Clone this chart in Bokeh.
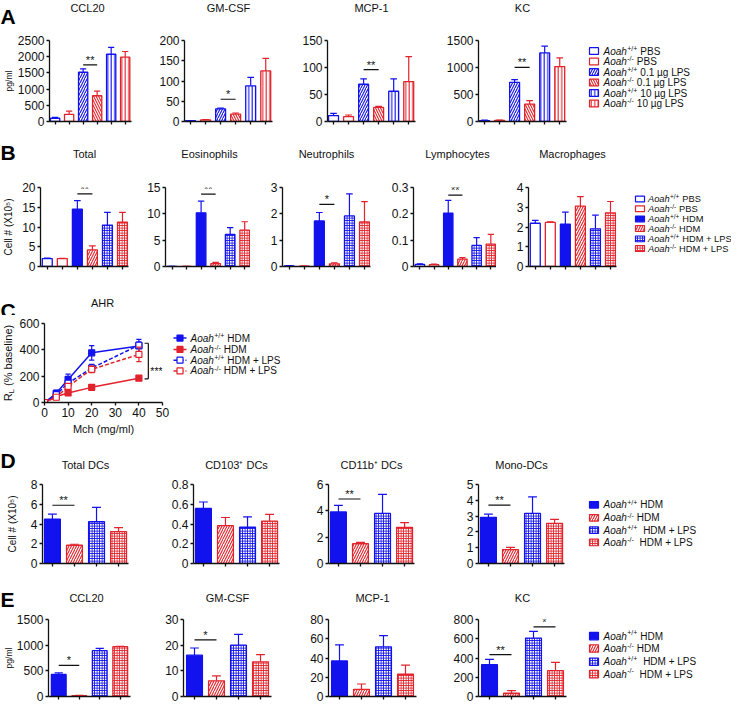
import math
from bokeh.plotting import figure
from bokeh.models import Range1d, FixedTicker, Label, LabelSet, ColumnDataSource, Div
from bokeh.layouts import row, column
from bokeh.embed import file_html
from bokeh.resources import INLINE
from bokeh.core.properties import value

FONT = "Liberation Sans"
BLUE = "#1212EE"
RED = "#E2232B"
INK = "#111111"

# ------------------------------------------------------------------ data
# Panel A (pg/ml); groups: +/+ PBS, -/- PBS, +/+ 0.1ug LPS, -/- 0.1ug LPS, +/+ 10ug LPS, -/- 10ug LPS
a_titles = ["CCL20", "GM-CSF", "MCP-1", "KC"]
a_groups = ["wt_pbs", "ko_pbs", "wt_l01", "ko_l01", "wt_l10", "ko_l10"]
a_ccl20 = [100, 220, 1520, 795, 2075, 1985]
a_ccl20_err = [25, 100, 105, 145, 215, 175]
a_gmcsf = [2, 4, 31, 18, 88, 125]
a_gmcsf_err = [0.5, 1, 2, 3, 21, 31]
a_mcp1 = [11, 9, 69, 26, 56, 74]
a_mcp1_err = [4, 3, 10, 2, 23, 46]
a_kc = [18, 20, 725, 322, 1270, 1017]
a_kc_err = [6, 6, 50, 63, 124, 160]
a_ymax = [2500, 200, 150, 1500]
a_ticks = [[0, 500, 1000, 1500, 2000, 2500], [0, 50, 100, 150, 200], [0, 50, 100, 150], [0, 500, 1000, 1500]]
a_sig = [[(2, 3, 1745, "**")], [(2, 3, 55, "*")], [(2, 3, 96, "**")], [(2, 3, 1004, "**")]]

# Panel B (cell # x10^5); groups: +/+ PBS, -/- PBS, +/+ HDM, -/- HDM, +/+ HDM+LPS, -/- HDM+LPS
b_titles = ["Total", "Eosinophils", "Neutrophils", "Lymphocytes", "Macrophages"]
b_groups = ["wt_pbs", "ko_pbs", "wt_hdm", "ko_hdm", "wt_hl", "ko_hl"]
b_total = [2.0, 2.0, 14.5, 4.2, 10.5, 11.2]
b_total_err = [0.1, 0.05, 2.2, 1.0, 3.2, 2.5]
b_eos = [0.02, 0.02, 10.2, 0.55, 6.1, 6.9]
b_eos_err = [0.01, 0.01, 2.2, 0.25, 1.3, 1.6]
b_neu = [0.02, 0.01, 1.73, 0.1, 1.92, 1.69]
b_neu_err = [0.01, 0.005, 0.32, 0.04, 0.84, 0.77]
b_lym = [0.008, 0.007, 0.203, 0.028, 0.08, 0.085]
b_lym_err = [0.002, 0.002, 0.048, 0.006, 0.03, 0.037]
b_mac = [2.19, 2.23, 2.15, 3.06, 1.91, 2.72]
b_mac_err = [0.15, 0.03, 0.6, 0.48, 0.69, 0.57]
b_ymax = [20, 15, 3, 0.3, 4]
b_ticks = [[0, 5, 10, 15, 20], [0, 5, 10, 15], [0, 1, 2, 3], [0.0, 0.1, 0.2, 0.3], [0, 1, 2, 3, 4]]
b_sig = [[(2, 3, 18.4, "**")], [(2, 3, 13.75, "**")], [(2, 3, 2.36, "*")], [(2, 3, 0.271, "**")], []]

# Panel C (AHR, R_L % baseline)
mch = [0, 5, 10, 20, 40]
ahr_wt_hdm = [0, 70, 175, 377, 430]
ahr_wt_hdm_err = [0, 25, 40, 55, 50]
ahr_ko_hdm = [0, 45, 72, 115, 185]
ahr_ko_hdm_err = [0, 10, 12, 15, 18]
ahr_wt_lps = [0, 60, 147, 262, 435]
ahr_wt_lps_err = [0, 15, 25, 28, 25]
ahr_ko_lps = [0, 40, 122, 252, 365]
ahr_ko_lps_err = [0, 10, 20, 25, 55]
ahr_bracket = (44, 180, 450, "***")

# Panel D (cell # x10^5); groups: +/+ HDM, -/- HDM, +/+ HDM+LPS, -/- HDM+LPS
d_titles = ["Total DCs", "CD103\u207a DCs", "CD11b\u207a DCs", "Mono-DCs"]
d_groups = ["wt_hdm", "ko_hdm", "wt_hl", "ko_hl"]
d_total = [4.5, 1.85, 4.23, 3.23]
d_total_err = [0.5, 0.1, 1.45, 0.4]
d_cd103 = [0.557, 0.383, 0.367, 0.43]
d_cd103_err = [0.066, 0.083, 0.106, 0.067]
d_cd11b = [3.92, 1.5, 3.8, 2.75]
d_cd11b_err = [0.5, 0.1, 1.45, 0.35]
d_mono = [2.92, 0.88, 3.17, 2.54]
d_mono_err = [0.2, 0.14, 1.05, 0.25]
d_ymax = [8, 0.8, 6, 5]
d_ticks = [[0, 2, 4, 6, 8], [0.0, 0.2, 0.4, 0.6, 0.8], [0, 2, 4, 6], [0, 1, 2, 3, 4, 5]]
d_sig = [[(0, 1, 5.9, "**")], [], [(0, 1, 4.9, "**")], [(0, 1, 3.69, "**")]]

# Panel E (pg/ml)
e_titles = ["CCL20", "GM-CSF", "MCP-1", "KC"]
e_ccl20 = [429, 15, 893, 970]
e_ccl20_err = [30, 8, 45, 8]
e_gmcsf = [16.1, 6.1, 20.0, 13.5]
e_gmcsf_err = [2.8, 1.9, 4.2, 2.8]
e_mcp1 = [36.9, 7.5, 51.6, 23.1]
e_mcp1_err = [16.8, 5.5, 11.6, 9.6]
e_kc = [331, 34, 607, 268]
e_kc_err = [55, 27, 69, 86]
e_ymax = [1500, 30, 80, 800]
e_ticks = [[0, 500, 1000, 1500], [0, 10, 20, 30], [0, 20, 40, 60, 80], [0, 200, 400, 600, 800]]
e_sig = [[(0, 1, 606, "*")], [(0, 1, 22.1, "*")], [], [(0, 1, 436, "**"), (2, 3, 724, "*")]]

# legend texts: (style, genotype superscript, text after it, number of spaces before it)
leg_a = [("wt_pbs", "+/+", "PBS", 1), ("ko_pbs", "-/-", "PBS", 1),
         ("wt_l01", "+/+", "0.1 \u00b5g LPS", 1), ("ko_l01", "-/-", "0.1 \u00b5g LPS", 1),
         ("wt_l10", "+/+", "10 \u00b5g LPS", 1), ("ko_l10", "-/-", "10 \u00b5g LPS", 1)]
leg_b = [("wt_pbs", "+/+", "PBS", 1), ("ko_pbs", "-/-", "PBS", 1),
         ("wt_hdm", "+/+", "HDM", 1), ("ko_hdm", "-/-", "HDM", 1),
         ("wt_hl", "+/+", "HDM + LPS", 1), ("ko_hl", "-/-", "HDM + LPS", 1)]
leg_c = [(BLUE, "solid", True, "+/+", "HDM", 1), (RED, "solid", True, "-/-", "HDM", 1),
         (BLUE, "dashed", False, "+/+", "HDM + LPS", 1), (RED, "dashed", False, "-/-", "HDM + LPS", 1)]
leg_d = [("wt_hdm", "+/+", "HDM", 1), ("ko_hdm", "-/-", "HDM", 1),
         ("wt_hl", "+/+", "HDM + LPS", 2), ("ko_hl", "-/-", "HDM + LPS", 2)]

# ------------------------------------------------------------------ styles
STYLES = {
    "wt_pbs": dict(fill="white", line=BLUE, hatch=" ", hscale=4),
    "ko_pbs": dict(fill="white", line=RED, hatch=" ", hscale=4),
    "wt_l01": dict(fill="white", line=BLUE, hatch="/", hscale=5),
    "ko_l01": dict(fill="white", line=RED, hatch="\\", hscale=5),
    "wt_l10": dict(fill="white", line=BLUE, hatch="|", hscale=3.5),
    "ko_l10": dict(fill="white", line=RED, hatch="|", hscale=3.5),
    "wt_hdm": dict(fill=BLUE, line=BLUE, hatch=" ", hscale=4),
    "ko_hdm": dict(fill="white", line=RED, hatch="/", hscale=5),
    "wt_hl": dict(fill="white", line=BLUE, hatch="+", hscale=2.5),
    "ko_hl": dict(fill="white", line=RED, hatch="+", hscale=2.5),
}
AW = {"A": .667, "o": .556, "a": .556, "h": .556, "+": .584, "/": .278, "-": .333, " ": .278}


def tw(s, size):
    return sum(AW.get(c, .556) for c in s) * size


def base_style(p, yticks, xticks, xlabels=False):
    p.grid.visible = False
    p.outline_line_color = None
    p.background_fill_color = "white"
    p.border_fill_color = "white"
    for ax in p.axis:
        ax.axis_line_color = INK
        ax.axis_line_width = 1.3
        ax.major_tick_line_color = INK
        ax.major_tick_line_width = 1.3
        ax.major_tick_in = 0
        ax.major_tick_out = 3
        ax.minor_tick_line_color = None
        ax.major_label_text_font = FONT
        ax.major_label_text_font_size = "12px"
        ax.major_label_text_color = INK
        ax.major_label_standoff = 2
        ax.axis_label_text_font = FONT
        ax.axis_label_text_font_style = "normal"
        ax.axis_label_text_color = INK
    p.yaxis.ticker = FixedTicker(ticks=yticks)
    p.xaxis.ticker = FixedTicker(ticks=xticks)
    if not xlabels:
        p.xaxis.major_label_text_color = None
        p.xaxis.major_label_text_font_size = "1px"
        p.xaxis.major_label_standoff = 0


def set_ylabel(p, text, size, standoff):
    p.yaxis.axis_label = text
    p.yaxis.axis_label_text_font_size = size
    p.yaxis.axis_label_standoff = standoff


def text_fig(w, h):
    p = figure(width=w, height=h, x_range=Range1d(0, w), y_range=Range1d(h, 0), min_border=0,
               x_axis_location=None, y_axis_location=None, toolbar_location=None, output_backend="svg")
    p.grid.visible = False
    p.outline_line_color = None
    p.background_fill_color = "white"
    p.border_fill_color = "white"
    return p


def header(h, letter, letter_base, titles, widths, mbls, fw, title_y):
    p = text_fig(731, h)
    p.text(x=[0], y=[letter_base], text=[letter], text_font=value(FONT), text_font_style="bold",
           text_font_size=value("21px"), text_baseline="alphabetic", text_align="left", text_color="black")
    xs, left = [], 0
    for w, m in zip(widths, mbls):
        xs.append(left + m + fw / 2)
        left += w
    p.text(x=xs, y=[title_y] * len(xs), text=titles, text_font=value(FONT), text_font_size=value("11px"),
           text_baseline="middle", text_align="center", text_color=INK)
    return p


def bar_panel(fig_w, fig_h, mbl, mbt, fw, fh, xr, ymax, yticks, groups, vals, errs, sigs, bar_w, cap_w):
    p = figure(width=fig_w, height=fig_h, x_range=Range1d(*xr), y_range=Range1d(0, ymax),
               min_border_left=mbl, min_border_right=fig_w - mbl - fw,
               min_border_top=mbt, min_border_bottom=fig_h - mbt - fh,
               output_backend="svg", toolbar_location=None)
    xs = list(range(len(vals)))
    base_style(p, yticks, xs)
    st = [STYLES[g] for g in groups]
    src = ColumnDataSource(dict(
        x=xs, top=vals, etop=[v + e for v, e in zip(vals, errs)],
        c0=[x - cap_w for x in xs], c1=[x + cap_w for x in xs],
        fill=[s["fill"] for s in st], line=[s["line"] for s in st],
        hatch=[s["hatch"] for s in st], hscale=[s["hscale"] for s in st]))
    p.segment(x0="x", y0="top", x1="x", y1="etop", line_color="line", line_width=1.2, source=src)
    p.segment(x0="c0", y0="etop", x1="c1", y1="etop", line_color="line", line_width=1.2, source=src)
    p.vbar(x="x", top="top", bottom=0, width=bar_w, source=src, fill_color="fill", line_color="line",
           line_width=1.3, hatch_pattern="hatch", hatch_color="line", hatch_scale="hscale",
           hatch_weight=1.1)
    if sigs:
        ss = ColumnDataSource(dict(x0=[s[0] for s in sigs], x1=[s[1] for s in sigs],
                                   y=[s[2] for s in sigs], xm=[(s[0] + s[1]) / 2 for s in sigs],
                                   t=[s[3] for s in sigs]))
        p.segment(x0="x0", y0="y", x1="x1", y1="y", line_color=INK, line_width=1.2, source=ss)
        p.add_layout(LabelSet(x="xm", y="y", text="t", source=ss, text_align="center",
                              text_baseline="alphabetic", y_offset=1, text_font=value(FONT),
                              text_font_size=value("11px"), text_color=INK))
    return p


def legend_text(p, genos, rests, nsp, rows_y, text_x, size):
    wa = tw("Aoah", size)
    ssz = size * 0.7
    n = len(genos)
    p.text(x=[text_x] * n, y=rows_y, text=["Aoah"] * n, text_font=value(FONT), text_font_style="italic",
           text_font_size=value("%gpx" % size), text_baseline="middle", text_color=INK)
    p.text(x=[text_x + wa + 0.3] * n, y=[y - size * 0.38 for y in rows_y], text=genos, text_font=value(FONT),
           text_font_size=value("%gpx" % ssz), text_baseline="middle", text_color=INK)
    p.text(x=[text_x + wa + 0.6 + tw(g, ssz) + k * tw(" ", size) for g, k in zip(genos, nsp)], y=rows_y,
           text=rests, text_font=value(FONT), text_font_size=value("%gpx" % size),
           text_baseline="middle", text_color=INK)


def legend_bars(w, h, items, rows_y, box_cx, text_x, size=10.0):
    p = text_fig(w, h)
    st = [STYLES[k] for k, *_ in items]
    src = ColumnDataSource(dict(x=[box_cx] * len(items), y=rows_y,
                                fill=[s["fill"] for s in st], line=[s["line"] for s in st],
                                hatch=[s["hatch"] for s in st], hscale=[s["hscale"] for s in st]))
    p.rect(x="x", y="y", width=9, height=9, source=src, fill_color="fill", line_color="line",
           line_width=1.2, hatch_pattern="hatch", hatch_color="line", hatch_scale="hscale", hatch_weight=1.1)
    legend_text(p, [it[1] for it in items], [it[2] for it in items], [it[3] for it in items],
                rows_y, text_x, size)
    return p


# ------------------------------------------------------------------ row A
A_W = [148, 143, 149, 138]
A_MBL = [43, 36, 36, 38]
A_HDR, A_H, A_MBT, A_FH, A_FW = 28, 108, 12, 81, 88
a_vals = [a_ccl20, a_gmcsf, a_mcp1, a_kc]
a_errs = [a_ccl20_err, a_gmcsf_err, a_mcp1_err, a_kc_err]
row_a = []
for i in range(4):
    row_a.append(bar_panel(A_W[i], A_H, A_MBL[i], A_MBT, A_FW, A_FH, (-0.4, 5.45), a_ymax[i], a_ticks[i],
                           a_groups, a_vals[i], a_errs[i], a_sig[i], 0.66, 0.22))
set_ylabel(row_a[0], "pg/ml", "8.5px", 1)
row_a.append(legend_bars(153, A_H, leg_a, [14, 28, 42, 56, 70, 84], 15.5, 25))
hdr_a = header(A_HDR, "A", 16, a_titles, A_W, A_MBL, A_FW, 7)

# ------------------------------------------------------------------ row B
B_W = [130, 120, 127, 119, 132]
B_MBL = [40, 35, 32, 36, 32]
B_HDR, B_H, B_MBT, B_FH, B_FW = 30, 123, 21, 79, 88
b_vals = [b_total, b_eos, b_neu, b_lym, b_mac]
b_errs = [b_total_err, b_eos_err, b_neu_err, b_lym_err, b_mac_err]
row_b = []
for i in range(5):
    row_b.append(bar_panel(B_W[i], B_H, B_MBL[i], B_MBT, B_FW, B_FH, (-0.45, 5.4), b_ymax[i], b_ticks[i],
                           b_groups, b_vals[i], b_errs[i], b_sig[i], 0.66, 0.22))
set_ylabel(row_b[0], "Cell # (X10\u2075)", "10px", 5)
row_b.append(legend_bars(103, B_H, leg_b, [18, 33, 49, 64, 80, 95], 11.5, 19.5, 9.3))
hdr_b = header(B_HDR, "B", 16, b_titles, B_W, B_MBL, B_FW, 17)

# ------------------------------------------------------------------ row C
C_HDR, C_H, C_MBT, C_FH, C_FW = 26, 125, 8, 79, 120
C_LW, C_W, C_MBL = 16, 154, 26
pc = figure(width=C_W, height=C_H, x_range=Range1d(0, 50), y_range=Range1d(0, 600),
            min_border_left=C_MBL, min_border_right=C_W - C_MBL - C_FW, min_border_top=C_MBT,
            min_border_bottom=C_H - C_MBT - C_FH, output_backend="svg", toolbar_location=None)
base_style(pc, [0, 200, 400, 600], [0, 10, 20, 30, 40, 50], xlabels=True)
pc.xaxis.axis_label = "Mch (mg/ml)"
pc.xaxis.axis_label_text_font_size = "11px"
pc.xaxis.axis_label_standoff = 3
series = [(ahr_wt_hdm, ahr_wt_hdm_err, BLUE, "solid", True),
          (ahr_ko_hdm, ahr_ko_hdm_err, RED, "solid", True),
          (ahr_wt_lps, ahr_wt_lps_err, BLUE, "4 2", False),
          (ahr_ko_lps, ahr_ko_lps_err, RED, "4 2", False)]
for vals, errs, col, dash, filled in series:
    s = ColumnDataSource(dict(x=mch, y=vals, lo=[v - e for v, e in zip(vals, errs)],
                              hi=[v + e for v, e in zip(vals, errs)],
                              c0=[x - 1.1 for x in mch], c1=[x + 1.1 for x in mch]))
    pc.line(x="x", y="y", source=s, line_color=col, line_width=1.5, line_dash=dash)
    pc.segment(x0="x", y0="lo", x1="x", y1="hi", source=s, line_color=col, line_width=1.2)
    pc.segment(x0="c0", y0="hi", x1="c1", y1="hi", source=s, line_color=col, line_width=1.2)
    pc.segment(x0="c0", y0="lo", x1="c1", y1="lo", source=s, line_color=col, line_width=1.2)
    pc.scatter(x="x", y="y", source=s, marker="square", size=6, line_color=col, line_width=1.2,
               fill_color=col if filled else "white")
bx, blo, bhi, btxt = ahr_bracket
pc.segment(x0=[bx, bx - 1.6, bx - 1.6], y0=[blo, blo, bhi], x1=[bx, bx, bx], y1=[bhi, blo, bhi],
           line_color=INK, line_width=1.2)
pc.add_layout(Label(x=bx, x_offset=2, y=(blo + bhi) / 2, y_offset=-10, text=btxt, text_align="left",
                    text_baseline="alphabetic", text_font=FONT, text_font_size="10.5px", text_color=INK))

# rotated y label R_L (% baseline): HTML text with a real subscript, centred on the frame
cy = C_MBT + C_FH / 2
ylab_html = (
    '<div style="position:relative;width:{w}px;height:{h}px;overflow:visible;">'
    '<div style="position:absolute;left:10px;top:{cy}px;width:max-content;white-space:nowrap;'
    'transform:translate(-50%,-50%) rotate(-90deg);font-family:\'{font}\';font-size:11px;'
    'line-height:12px;color:{ink};">R<sub style="font-size:7.5px;vertical-align:-2px;">L</sub>'
    ' (% baseline)</div></div>').format(w=C_LW, h=C_H, cy=cy, font=FONT, ink=INK)
ylc = Div(text=ylab_html, width=C_LW, height=C_H, margin=0)

lc = text_fig(561, C_H)
c_rows = [23, 41, 58, 75]
for (col, dash, filled, *_), yy in zip(leg_c, c_rows):
    lc.line(x=[3, 16], y=[yy, yy], line_color=col, line_width=1.5, line_dash="4 2" if dash == "dashed" else "solid")
    lc.scatter(x=[9.5], y=[yy], marker="square", size=6, line_color=col, line_width=1.2,
               fill_color=col if filled else "white")
legend_text(lc, [it[3] for it in leg_c], [it[4] for it in leg_c], [it[5] for it in leg_c], c_rows, 20, 10.0)
row_c = [ylc, pc, lc]
hdr_c = header(C_HDR, "C", 21, ["AHR"], [C_LW + C_W], [C_LW + C_MBL], C_FW, 13)

# ------------------------------------------------------------------ row D
D_W = [153, 141, 150, 134]
D_MBL = [42, 40, 34, 34]
D_HDR, D_H, D_MBT, D_FH, D_FW = 34, 109, 10, 79, 86
d_vals = [d_total, d_cd103, d_cd11b, d_mono]
d_errs = [d_total_err, d_cd103_err, d_cd11b_err, d_mono_err]
row_d = []
for i in range(4):
    row_d.append(bar_panel(D_W[i], D_H, D_MBL[i], D_MBT, D_FW, D_FH, (-0.45, 3.45), d_ymax[i], d_ticks[i],
                           d_groups, d_vals[i], d_errs[i], d_sig[i], 0.72, 0.2))
set_ylabel(row_d[0], "Cell # (X10\u2075)", "10px", 10)
row_d.append(legend_bars(153, D_H, leg_d, [28, 46, 63, 80], 15.5, 25))
hdr_d = header(D_HDR, "D", 20, d_titles, D_W, D_MBL, D_FW, 24)

# ------------------------------------------------------------------ row E
E_W = [149, 145, 146, 138]
E_MBL = [42, 34, 34, 38]
E_HDR, E_H, E_MBT, E_FH, E_FW = 28, 93, 8, 77, 88
e_vals = [e_ccl20, e_gmcsf, e_mcp1, e_kc]
e_errs = [e_ccl20_err, e_gmcsf_err, e_mcp1_err, e_kc_err]
row_e = []
for i in range(4):
    row_e.append(bar_panel(E_W[i], E_H, E_MBL[i], E_MBT, E_FW, E_FH, (-0.5, 3.5), e_ymax[i], e_ticks[i],
                           d_groups, e_vals[i], e_errs[i], e_sig[i], 0.72, 0.2))
set_ylabel(row_e[0], "pg/ml", "8.5px", 0)
row_e.append(legend_bars(153, E_H, leg_d, [20, 35, 51, 66], 15.5, 25))
hdr_e = header(E_HDR, "E", 16, e_titles, E_W, E_MBL, E_FW, 14)

layout = column(hdr_a, row(*row_a), hdr_b, row(*row_b), hdr_c, row(*row_c),
                hdr_d, row(*row_d), hdr_e, row(*row_e))
open("out.html", "w").write(file_html(layout, INLINE))
